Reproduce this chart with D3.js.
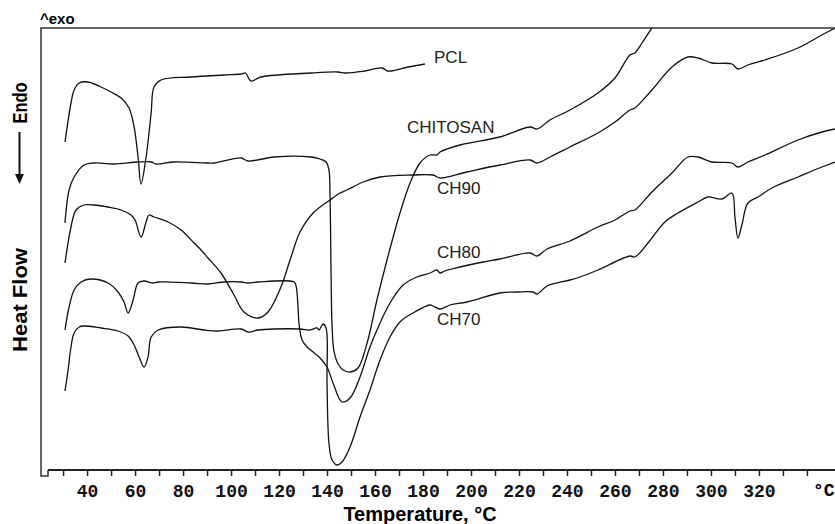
<!DOCTYPE html>
<html>
<head>
<meta charset="utf-8">
<style>
  body { margin: 0; background: #fff; }
  svg { display: block; }
</style>
</head>
<body>
<script src="https://d3js.org/d3.v7.min.js"></script>
<script>
// DSC thermograms, temperature in degC, heat flow in arbitrary units (exo up)
var pcl = [[30.8,334],[33.3,373],[34.6,386],[36.7,393],[40.4,394],[45.8,389],[50,384],[54.2,378],[57.5,368],[59.6,349],[61.25,319],[62.5,292],[64.6,319],[66.7,363],[67.9,389],[70.8,396],[83.3,399],[97.1,401],[104.2,402],[106,403],[108.3,395],[112.5,399],[133.3,403],[144.6,404],[147.5,403],[155.8,405],[162.9,408],[165.4,405],[173.75,409],[180.8,412]];

var chitosan = [[30.8,253],[32.5,286],[34.6,299],[38.75,311],[42.9,313],[51.25,312],[61.25,314],[66.7,314],[68.75,312],[76.25,314],[90.4,313],[92.9,313],[104.2,318],[107.1,315],[117.9,319],[133.3,319],[137.1,317],[139.6,314],[140.8,306],[141.25,280],[141.7,200],[142.1,150],[142.9,125],[144.6,112],[146.7,106],[149.6,104],[152.9,108],[156.7,133],[160.8,176],[165,216],[170.4,263],[174.6,293],[178.75,313],[182.9,321],[185.8,321],[187.1,324],[195.4,331],[212,339],[224.6,349],[227.5,347],[232.9,356],[241.25,366],[252.9,383],[260,398],[266.25,421],[268.3,423],[271.25,433],[275.4,448],[280,462]];

var ch90 = [[30.8,213],[33.3,249],[35.4,266],[38.75,271],[42.9,271],[48.75,269],[54.2,266],[58.3,261],[60,256],[62.5,239],[64.6,254],[65.8,261],[67.9,259],[73.75,254],[79.2,246],[84.6,233],[87.5,226],[90.4,218],[95.8,203],[101.25,181],[105.4,164],[111.25,158],[115.4,164],[120.8,189],[124.6,216],[128.75,244],[134.2,263],[141.25,276],[145.4,283],[148.3,286],[155,294],[162.1,299],[175.8,301],[184.2,301],[187.1,298],[198.3,304],[212,311],[224.6,316],[227.5,313],[232.9,319],[241.25,329],[252.9,343],[260,354],[266.25,366],[268.3,368],[275.4,386],[283.75,409],[290.4,419],[294.6,418],[300.4,413],[308.75,412],[311.25,407],[315.4,411],[322.5,416],[336.25,428],[346.25,441],[351.7,448]];

var ch80 = [[30.8,146],[32.5,169],[34.6,186],[37.5,194],[41.7,197],[48.75,193],[52.9,184],[55.4,174],[57.1,163],[59.2,176],[61.25,193],[63.75,195],[67.5,193],[69.6,194],[83.3,193],[90.4,192],[97.1,194],[104.2,194],[107.1,193],[111.25,194],[126.25,194],[127.1,190],[127.9,170],[128.3,153],[129.6,136],[131.7,129],[134.2,124],[137.1,118],[140,109],[142.5,93],[146.25,74],[149.6,78],[153.75,99],[157.9,129],[162.1,153],[166.25,173],[171.7,191],[177.5,199],[182.9,203],[185.8,206],[187.1,203],[189,205],[195.4,209],[205,214],[212,217],[224.6,223],[227.5,220],[231.7,227],[241.25,235],[252.9,249],[260,256],[266.25,265],[268.3,266],[275.4,284],[283.75,303],[290.4,319],[294.6,319],[300.4,314],[308.75,313],[311.25,309],[315.4,314],[322.5,321],[336.25,336],[346.25,344],[351.7,347]];

var ch70 = [[30.8,85],[32.1,106],[33.3,129],[34.6,143],[36.7,149],[38.75,150],[45.8,148],[52.9,145],[57.1,140],[59.6,131],[61.7,119],[63.75,109],[65.4,119],[66.7,139],[69.6,146],[79.2,149],[88.75,146],[94.6,145],[104.2,147],[107.1,144],[111.25,146],[117.9,147],[128.75,147],[132.9,146],[135.8,148],[136.7,146],[138.3,152],[139.6,148],[140.0,93],[140.8,33],[142.1,16],[144.2,11],[146.25,14],[149.6,29],[153.75,59],[157.9,86],[162.1,116],[166.25,139],[170.4,154],[175.8,163],[182.9,171],[184.2,170],[187.1,167],[191.25,171],[198.3,174],[212,183],[219.2,184],[225.8,184],[227.5,182],[231.7,190],[241.25,196],[245.4,199],[252.9,206],[266.25,220],[268.3,219],[273.75,233],[280.8,254],[286.25,263],[294.6,274],[298.75,279],[304.6,277],[308.75,283],[310,259],[311.25,238],[312.9,251],[315.4,273],[319.6,279],[325.4,288],[336.25,299],[346.25,309],[351.7,314]];

var seriesNames = ['PCL', 'CHITOSAN', 'CH90', 'CH80', 'CH70'];
// where each name sits, in (degC, heat flow)
var labelAt = [[184.6,413],[173.3,343],[185.8,282],[185.8,218],[185.8,151]];
var tickLabels = d3.range(40, 321, 20);
var minorTicks = d3.range(30, 341, 10);

var W = 835, H = 524;
var plotL = 41, plotR = 835, plotT = 28, plotB = 476, axisY = 470;

var svg = d3.select('body').append('svg')
  .attr('width', W)
  .attr('height', H);

var x = d3.scaleLinear().domain([20.8, 351.7]).range([plotL, plotR]);
var y = d3.scaleLinear().domain([0, 448]).range([plotB, plotT]);

svg.append('clipPath').attr('id', 'plot')
  .append('rect')
  .attr('x', plotL).attr('y', plotT)
  .attr('width', plotR - plotL).attr('height', plotB - plotT);

var line = d3.line()
  .x(d => x(d[0]))
  .y(d => y(d[1]))
  .curve(d3.curveCatmullRom.alpha(0.5));

svg.append('g')
  .attr('clip-path', 'url(#plot)')
  .selectAll('path')
  .data([pcl, chitosan, ch90, ch80, ch70])
  .join('path')
    .attr('d', line)
    .attr('fill', 'none')
    .attr('stroke', '#111')
    .attr('stroke-width', 1.3)
    .attr('stroke-linejoin', 'round');

svg.append('g')
  .selectAll('text')
  .data(seriesNames)
  .join('text')
    .attr('x', (d, i) => x(labelAt[i][0]))
    .attr('y', (d, i) => y(labelAt[i][1]))
    .attr('font-family', 'Liberation Sans, Arial, sans-serif')
    .attr('font-size', 17)
    .attr('fill', '#222')
    .text(d => d);

// frame
svg.append('path')
  .attr('d', `M${plotR},${plotT}H${plotL}V${plotB}H48V${axisY}`)
  .attr('fill', 'none')
  .attr('stroke', '#333')
  .attr('stroke-width', 1.5);

var xAxis = d3.axisBottom(x)
  .tickValues(minorTicks)
  .tickSize(6)
  .tickSizeOuter(0)
  .tickPadding(8)
  .tickFormat(d => tickLabels.indexOf(d) >= 0 ? d : '');

var gx = svg.append('g')
  .attr('transform', `translate(0,${axisY})`)
  .call(xAxis);
gx.select('.domain').remove();
gx.append('line')
  .attr('x1', 48).attr('x2', plotR)
  .attr('stroke', '#222').attr('stroke-width', 2);
gx.selectAll('.tick line').attr('stroke', '#222').attr('stroke-width', 1.5);
gx.selectAll('.tick text')
  .attr('font-family', 'Liberation Mono, Courier New, monospace')
  .attr('font-weight', 'bold')
  .attr('font-size', 18)
  .attr('fill', '#111');

svg.append('text')
  .attr('x', 813).attr('y', 496)
  .attr('font-family', 'Liberation Mono, Courier New, monospace')
  .attr('font-weight', 'bold')
  .attr('font-size', 18)
  .text('°C');

svg.append('text')
  .attr('x', 420).attr('y', 521)
  .attr('text-anchor', 'middle')
  .attr('font-family', 'Liberation Sans, Arial, sans-serif')
  .attr('font-weight', 'bold')
  .attr('font-size', 20)
  .text('Temperature, °C');

svg.append('text')
  .attr('x', 40).attr('y', 24)
  .attr('font-family', 'Liberation Sans, Arial, sans-serif')
  .attr('font-weight', 'bold')
  .attr('font-size', 15)
  .text('^exo');

// y axis titles
svg.append('text')
  .attr('transform', 'translate(27,300) rotate(-90)')
  .attr('text-anchor', 'middle')
  .attr('font-family', 'Liberation Sans, Arial, sans-serif')
  .attr('font-weight', 'bold')
  .attr('font-size', 20)
  .attr('textLength', 104)
  .attr('lengthAdjust', 'spacingAndGlyphs')
  .text('Heat Flow');

svg.append('text')
  .attr('transform', 'translate(27,103) rotate(-90)')
  .attr('text-anchor', 'middle')
  .attr('font-family', 'Liberation Sans, Arial, sans-serif')
  .attr('font-weight', 'bold')
  .attr('font-size', 20)
  .attr('textLength', 41)
  .attr('lengthAdjust', 'spacingAndGlyphs')
  .text('Endo');

svg.append('line')
  .attr('x1', 19.5).attr('x2', 19.5)
  .attr('y1', 132).attr('y2', 175)
  .attr('stroke', '#111').attr('stroke-width', 2);
svg.append('path')
  .attr('d', 'M15,174L24,174L19.5,184Z')
  .attr('fill', '#111');
</script>
</body>
</html>
